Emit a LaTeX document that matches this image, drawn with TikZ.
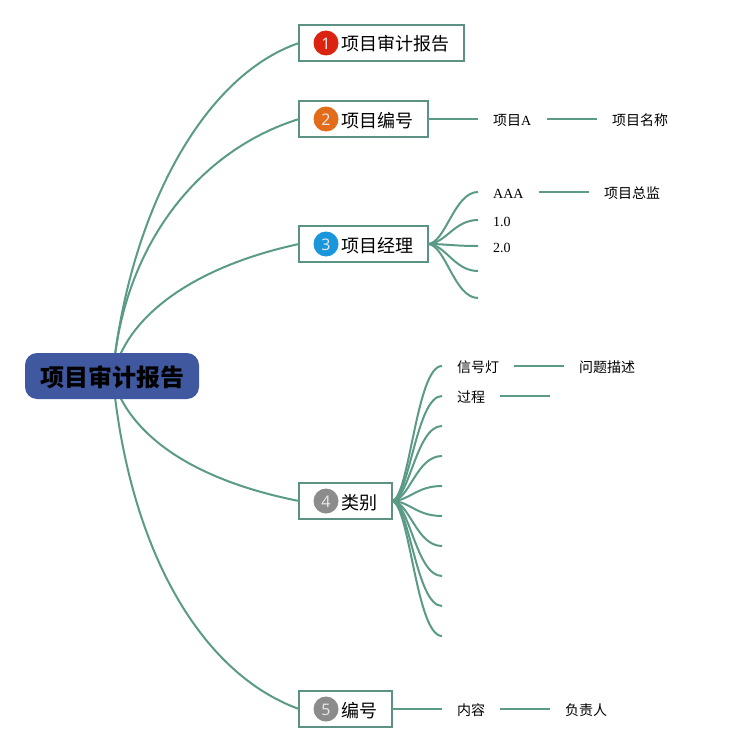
\documentclass[tikz,border=0pt]{standalone}
\usepackage{fontspec}
\usetikzlibrary{calc}
\setmainfont{Liberation Serif}
\newfontfamily\cjk{Noto Sans CJK SC}
\newfontfamily\digitfont{Noto Sans}
\definecolor{linkc}{HTML}{5A9A87}
\definecolor{boxc}{HTML}{5B9284}
\definecolor{rootc}{HTML}{3F58A0}
\definecolor{bred}{HTML}{DB2410}
\definecolor{borange}{HTML}{E36C1A}
\definecolor{bblue}{HTML}{1A96DD}
\definecolor{bgrey}{HTML}{8C8C8C}
\tikzset{
  link/.style={draw=linkc,line width=2pt},
  rootbox/.style={fill=rootc,rounded corners=12pt,minimum width=174pt,minimum height=46pt,inner sep=0pt,text height=21pt,text depth=0pt,font=\cjk\fontsize{24}{24}\selectfont\bfseries,text=black},
  topic/.style={draw=boxc,line width=2pt,outer sep=0pt,fill=white,anchor=west,minimum height=36pt,inner xsep=13.5pt,inner ysep=0pt,text height=16pt,text depth=0pt,font=\cjk\fontsize{18}{18}\selectfont},
  badge/.style={circle,minimum size=25pt,inner sep=0pt,text=white!90!black,text height=13.5pt,text depth=0pt,font=\digitfont\fontsize{16}{16}\selectfont},
  leaf/.style={anchor=west,inner xsep=15pt,inner ysep=0pt,text height=13.6pt,text depth=0pt,font=\cjk\fontsize{14}{14}\selectfont},
  latinleaf/.style={leaf,text height=12.2pt,text depth=0pt,font=\fontsize{14}{14}\selectfont},
}
\begin{document}
\begin{tikzpicture}[x=1pt,y=-1pt]
\useasboundingbox (0,0) rectangle (728,752);
% coordinates on the root
\coordinate (rt) at (115,355);
\coordinate (rb) at (115,397);
\coordinate (rt2) at (120,355);
\coordinate (rb2) at (120,397);
% topics
\node[topic] (t1) at (299,43) {\hspace*{29pt}项目审计报告\hspace*{0.5pt}};
\node[topic] (t2) at (299,119) {\hspace*{29pt}项目编号\hspace*{0.5pt}};
\node[topic] (t3) at (299,244) {\hspace*{29pt}项目经理\hspace*{0.5pt}};
\node[topic] (t4) at (299,501) {\hspace*{29pt}类别\hspace*{0.5pt}};
\node[topic] (t5) at (299,709) {\hspace*{29pt}编号\hspace*{0.5pt}};
\node[badge,fill=bred] (b1) at (326,43) {1};
\node[badge,fill=borange] (b2) at (326,119) {2};
\node[badge,fill=bblue] (b3) at (326,244) {3};
\node[badge,fill=bgrey] (b4) at (326,501) {4};
\node[badge,fill=bgrey] (b5) at (326,709) {5};
% root connectors
\draw[link] (rt) .. controls (135,205) and (205,75) .. (t1.west);
\draw[link] (rt) .. controls (130,240) and (200,150) .. (t2.west);
\draw[link] (rt2) .. controls (145,300) and (215,262) .. (t3.west);
\draw[link] (rb2) .. controls (148,452) and (218,485) .. (t4.west);
\draw[link] (rb) .. controls (135,560) and (205,675) .. (t5.west);
\node[rootbox] (root) at (112,376) {项目审计报告};
% branch 2
\node[leaf] (a2) at (478,119) {项目\rmfamily A};
\node[leaf] (a2b) at (597,119) {项目名称};
\draw[link] (t2.east) -- (a2.west);
\draw[link] (a2.east) -- (a2b.west);
% branch 3
\node[latinleaf] (c1) at (478,192) {AAA};
\node[latinleaf] (c2) at (478,220) {1.0};
\node[latinleaf] (c3) at (478,246) {2.0};
\coordinate (c4) at (478,271);
\coordinate (c5) at (478,298);
\node[leaf] (c1b) at (589,192) {项目总监};
\draw[link] (c1.east) -- (c1b.west);
\foreach \n in {c1.west,c2.west,c3.west,c4,c5}
  \draw[link] (t3.east) .. controls +(18,0) and ($(\n)+(-24,0)$) .. (\n);
% branch 4
\node[leaf] (d1) at (442,366) {信号灯};
\node[leaf] (d2) at (442,396) {过程};
\node[leaf] (d1b) at (564,366) {问题描述};
\coordinate (d2b) at (550,396);
\coordinate (d3) at (442,426);
\coordinate (d4) at (442,456);
\coordinate (d5) at (442,486);
\coordinate (d6) at (442,516);
\coordinate (d7) at (442,546);
\coordinate (d8) at (442,576);
\coordinate (d9) at (442,606);
\coordinate (d10) at (442,636);
\draw[link] (d1.east) -- (d1b.west);
\draw[link] (d2.east) -- (d2b);
\foreach \n in {d1.west,d2.west,d3,d4,d5,d6,d7,d8,d9,d10}
  \draw[link] (t4.east) .. controls +(18,0) and ($(\n)+(-26,0)$) .. (\n);
% branch 5
\node[leaf] (e1) at (442,709) {内容};
\node[leaf] (e1b) at (550,709) {负责人};
\draw[link] (t5.east) -- (e1.west);
\draw[link] (e1.east) -- (e1b.west);
\end{tikzpicture}
\end{document}
